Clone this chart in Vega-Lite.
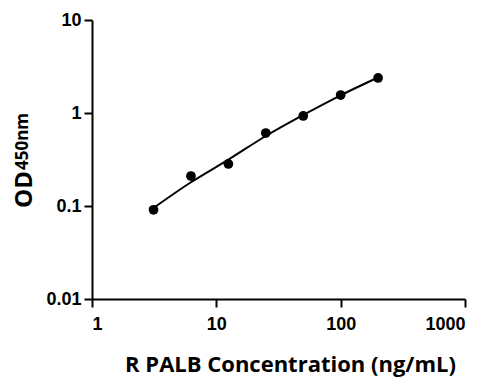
{
  "$schema": "https://vega.github.io/schema/vega-lite/v6.json",
  "width": 373,
  "height": 279,
  "autosize": "none",
  "padding": {"left": 92, "top": 20, "right": 34, "bottom": 92},
  "background": "white",
  "config": {
    "view": {"stroke": null},
    "axis": {
      "domainColor": "black",
      "domainWidth": 2,
      "tickColor": "black",
      "tickWidth": 2,
      "tickSize": 8,
      "grid": false,
      "labelFont": "Liberation Sans",
      "labelFontWeight": "bold",
      "labelFontSize": 18,
      "labelColor": "black",
      "titleFont": "Open Sans",
      "titleFontWeight": "bold",
      "titleColor": "black"
    }
  },
  "datasets": {
    "pts": [
      {"conc": 3.125, "od": 0.091},
      {"conc": 6.25, "od": 0.21},
      {"conc": 12.5, "od": 0.283},
      {"conc": 25, "od": 0.609},
      {"conc": 50, "od": 0.929},
      {"conc": 100, "od": 1.56},
      {"conc": 200, "od": 2.38}
    ],
    "fit": [
      {"conc": 3.125, "od": 0.0952},
      {"conc": 6.25, "od": 0.18},
      {"conc": 12.5, "od": 0.315},
      {"conc": 25, "od": 0.566},
      {"conc": 50, "od": 0.952},
      {"conc": 100, "od": 1.55},
      {"conc": 200, "od": 2.41}
    ]
  },
  "resolve": {"axis": {"y": "independent"}},
  "layer": [
    {
      "data": {"name": "pts"},
      "mark": {"type": "circle", "color": "black", "opacity": 1, "size": 95},
      "encoding": {
        "x": {
          "field": "conc", "type": "quantitative",
          "scale": {"type": "log", "domain": [1, 1000], "nice": false},
          "axis": {"values": [1, 10, 100, 1000], "format": "~g", "title": "R PALB Concentration (ng/mL)", "titleFontSize": 22, "labelPadding": 8, "titlePadding": 21, "titleX": 198, "titleAlign": "center"}
        },
        "y": {
          "field": "od", "type": "quantitative",
          "scale": {"type": "log", "domain": [0.01, 10], "nice": false},
          "axis": {"orient": "left", "values": [0.01, 0.1, 1, 10], "format": "~g", "title": "OD", "titleFontSize": 24, "labelPadding": 3, "titleAngle": -90, "titleAlign": "center", "titleBaseline": "alphabetic", "titleX": -61, "titleY": 169}
        }
      }
    },
    {
      "data": {"name": "fit"},
      "mark": {"type": "line", "color": "black", "strokeWidth": 2, "interpolate": "monotone"},
      "encoding": {
        "x": {"field": "conc", "type": "quantitative"},
        "y": {
          "field": "od", "type": "quantitative",
          "axis": {"orient": "right", "domain": false, "ticks": false, "labels": false, "title": "450nm", "titleFontSize": 17, "titleAngle": -90, "titleAlign": "center", "titleBaseline": "alphabetic", "titleX": -438, "titleY": 121}
        }
      }
    }
  ]
}
